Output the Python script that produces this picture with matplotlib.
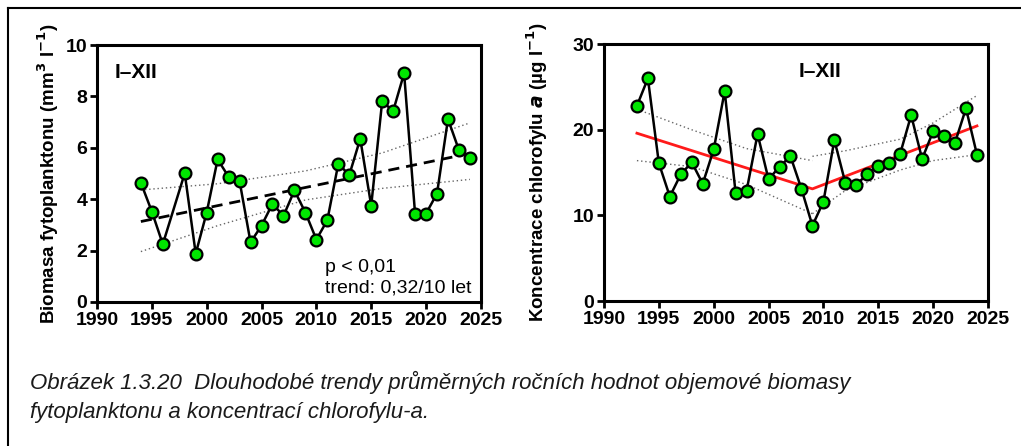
import matplotlib.pyplot as plt
from matplotlib.lines import Line2D

# Biomasa fytoplanktonu (1997 missing)
years_bio = [1994, 1995, 1996, 1998, 1999, 2000, 2001, 2002, 2003, 2004, 2005,
             2006, 2007, 2008, 2009, 2010, 2011, 2012, 2013, 2014, 2015, 2016,
             2017, 2018, 2019, 2020, 2021, 2022, 2023, 2024]
biomasa = [4.64, 3.52, 2.25, 5.01, 1.88, 3.48, 5.55, 4.87, 4.70, 2.32, 2.97,
           3.82, 3.35, 4.34, 3.48, 2.43, 3.18, 5.38, 4.94, 6.35, 3.75, 7.81,
           7.43, 8.90, 3.43, 3.44, 4.22, 7.12, 5.91, 5.60]

# trend line and 95% band for biomass
trend_bio_x = [1994, 2024]
trend_bio_y = [3.13, 5.78]
band_bio_x = [1994, 2001, 2009, 2016, 2024]
band_bio_hi = [4.36, 4.60, 5.10, 5.80, 6.97]
band_bio_lo = [1.96, 2.97, 3.97, 4.42, 4.77]

# Koncentrace chlorofylu a
years_chl = list(range(1993, 2025))
chlorofyl = [22.8, 26.0, 16.1, 12.2, 14.8, 16.2, 13.7, 17.7, 24.5, 12.6, 12.9,
             19.5, 14.2, 15.7, 16.9, 13.1, 8.8, 11.6, 18.8, 13.8, 13.6, 14.8,
             15.8, 16.1, 17.2, 21.7, 16.6, 19.8, 19.3, 18.5, 22.5, 17.1]

# segmented trend (break 2009) and its band
trend_chl_x = [1993, 2009, 2024]
trend_chl_y = [19.6, 13.1, 20.45]
band_chl_a_x = [1993, 1998, 2003, 2009]
band_chl_a_hi = [22.4, 20.0, 17.8, 16.4]
band_chl_a_lo = [16.4, 15.7, 13.6, 10.2]
band_chl_b_x = [2009, 2012, 2017, 2020, 2024]
band_chl_b_hi = [16.9, 17.55, 18.9, 20.8, 24.0]
band_chl_b_lo = [10.2, 12.9, 15.3, 16.4, 17.1]

plt.rcParams['font.family'] = ['Liberation Sans', 'DejaVu Sans']

fig = plt.figure(figsize=(10.21, 4.46), dpi=100)
ax1 = fig.add_axes([0.095, 0.323, 0.376, 0.576])
ax2 = fig.add_axes([0.5916, 0.325, 0.376, 0.576])

green = '#00e600'


def style_axes(ax, yticks, ylim):
    ax.set_xlim(1990, 2025)
    ax.set_ylim(*ylim)
    ax.set_xticks(range(1990, 2026, 5))
    ax.set_yticks(yticks)
    for s in ax.spines.values():
        s.set_linewidth(2.2)
    ax.tick_params(direction='out', length=5, width=2, labelsize=14, pad=2)
    for lab in ax.get_xticklabels() + ax.get_yticklabels():
        lab.set_fontweight('bold')


# left panel
ax1.plot(band_bio_x, band_bio_hi, color='#666666', lw=1, ls=(0, (1, 2)))
ax1.plot(band_bio_x, band_bio_lo, color='#666666', lw=1, ls=(0, (1, 2)))
ax1.plot(trend_bio_x, trend_bio_y, color='black', lw=2, ls=(0, (4, 2.5)))
ax1.plot(years_bio, biomasa, color='black', lw=1.8, marker='o', ms=8.5,
         mfc=green, mec='black', mew=1.6)
style_axes(ax1, range(0, 11, 2), (0, 10))
ax1.set_ylabel('Biomasa fytoplanktonu (mm$^\\mathbf{3}$ l$^{\\mathbf{-1}}$)',
               fontsize=13.5, fontweight='bold', labelpad=3)
ax1.text(0.045, 0.93, 'I–XII', transform=ax1.transAxes, fontsize=15,
         fontweight='bold', va='top')
ax1.text(0.595, 0.02, 'p < 0,01\ntrend: 0,32/10 let', transform=ax1.transAxes,
         fontsize=14, va='bottom', linespacing=1.3)

# right panel
ax2.plot(band_chl_a_x, band_chl_a_hi, color='#666666', lw=1, ls=(0, (1, 2)))
ax2.plot(band_chl_a_x, band_chl_a_lo, color='#666666', lw=1, ls=(0, (1, 2)))
ax2.plot(band_chl_b_x, band_chl_b_hi, color='#666666', lw=1, ls=(0, (1, 2)))
ax2.plot(band_chl_b_x, band_chl_b_lo, color='#666666', lw=1, ls=(0, (1, 2)))
ax2.plot(trend_chl_x, trend_chl_y, color='#ff1a1a', lw=2)
ax2.plot(years_chl, chlorofyl, color='black', lw=1.8, marker='o', ms=8.5,
         mfc=green, mec='black', mew=1.6)
style_axes(ax2, range(0, 31, 10), (0, 30))
ax2.set_ylabel('Koncentrace chlorofylu $\\boldsymbol{a}$ (µg l$^{\\mathbf{-1}}$)',
               fontsize=13.5, fontweight='bold', labelpad=16)
ax2.text(0.5625, 0.93, 'I–XII', transform=ax2.transAxes, fontsize=15,
         fontweight='bold', va='top', ha='center')

# caption
fig.text(0.029, 0.11, 'Obrázek 1.3.20  Dlouhodobé trendy průměrných ročních hodnot objemové biomasy\n'
         'fytoplanktonu a koncentrací chlorofylu-a.', fontsize=16, style='italic',
         va='center', linespacing=1.45, color='#1a1a1a')

# frame
fig.add_artist(Line2D([0.008, 1.0], [0.983, 0.983], color='black', lw=1.5,
                      transform=fig.transFigure))
fig.add_artist(Line2D([0.008, 0.008], [0.0, 0.983], color='black', lw=1.5,
                      transform=fig.transFigure))

fig.savefig('out.png', dpi=100)
